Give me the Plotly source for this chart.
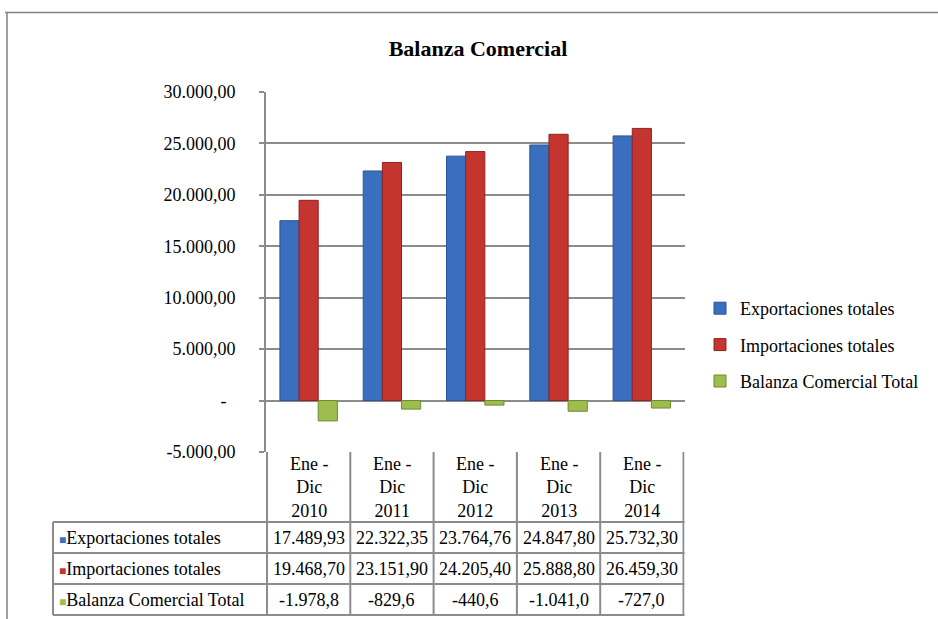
import plotly.graph_objects as go

# Trade balance data (millions), Jan-Dec periods
periods = ["Ene -<br>Dic<br>2010", "Ene -<br>Dic<br>2011", "Ene -<br>Dic<br>2012",
           "Ene -<br>Dic<br>2013", "Ene -<br>Dic<br>2014"]
exportaciones = [17489.93, 22322.35, 23764.76, 24847.80, 25732.30]
importaciones = [19468.70, 23151.90, 24205.40, 25888.80, 26459.30]
balanza = [-1978.8, -829.6, -440.6, -1041.0, -727.0]

series_names = ["Exportaciones totales", "Importaciones totales", "Balanza Comercial Total"]
series_values = [exportaciones, importaciones, balanza]
series_decimals = [2, 2, 1]
series_colors = ["#3A6FBF", "#C4352F", "#9DBE4E"]
series_edges = ["#2B5596", "#8E2421", "#6F8A32"]

y_tickvals = [30000, 25000, 20000, 15000, 10000, 5000, 0, -5000]
y_ticktext = ["30.000,00", "25.000,00", "20.000,00", "15.000,00", "10.000,00",
              "5.000,00", "-\u00a0\u00a0", "-5.000,00"]

W, H = 938, 619
FONT = "Liberation Serif, Times New Roman, serif"
GRID = "#8C8C8C"
FS = 18

# Page geometry (pixels)
PLOT_L, PLOT_R = 266, 684.5
PLOT_T, PLOT_B = 92, 452
TABLE_L = 53
HEADER_B = 522
ROW_H = 31


def es_num(v, dec):
    s = f"{v:,.{dec}f}"
    return s.replace(",", "X").replace(".", ",").replace("X", ".")


def px_x(p):
    return p / W


def px_y(p):
    return 1 - p / H


fig = go.Figure()

for name, vals, col, edge in zip(series_names, series_values, series_colors, series_edges):
    fig.add_trace(go.Bar(
        x=periods, y=vals, name=name, legendgroup=name,
        marker=dict(color=col, line=dict(color=edge, width=1)),
    ))

# ---- data table below the plot: grid lines ----
n_cat = len(periods)
n_rows = len(series_names)
table_b = HEADER_B + n_rows * ROW_H
line_style = dict(color=GRID, width=2)
shapes = []
# horizontal rules under the header and each row
for r in range(n_rows + 1):
    yy = px_y(HEADER_B + r * ROW_H)
    shapes.append(dict(type="line", xref="paper", yref="paper",
                       x0=px_x(TABLE_L), x1=px_x(PLOT_R), y0=yy, y1=yy, line=line_style))
# left edge of the row-label column
shapes.append(dict(type="line", xref="paper", yref="paper",
                   x0=px_x(TABLE_L), x1=px_x(TABLE_L),
                   y0=px_y(HEADER_B), y1=px_y(table_b), line=line_style))
# category boundaries, placed on the category axis
for k in range(n_cat + 1):
    xb = k - 0.5
    shapes.append(dict(type="line", xref="x", yref="paper", x0=xb, x1=xb,
                       y0=px_y(PLOT_B), y1=px_y(table_b), line=line_style))
# outer frame (top and left)
shapes.append(dict(type="line", xref="paper", yref="paper", x0=px_x(5), x1=1,
                   y0=px_y(12.5), y1=px_y(12.5), line=dict(color="#7F7F7F", width=1.5)))
shapes.append(dict(type="line", xref="paper", yref="paper", x0=px_x(7), x1=px_x(7),
                   y0=px_y(12.5), y1=0, line=dict(color="#7F7F7F", width=1.5)))

# ---- data table: texts ----
annotations = []
tfont = dict(family=FONT, size=FS, color="black")
for p in periods:
    annotations.append(dict(x=p, xref="x", y=px_y((PLOT_B + HEADER_B) / 2), yref="paper",
                            text=p, showarrow=False, xanchor="center", yanchor="middle",
                            font=tfont))
for r, (name, vals, dec, col) in enumerate(zip(series_names, series_values,
                                                series_decimals, series_colors)):
    yc = px_y(HEADER_B + (r + 0.5) * ROW_H)
    annotations.append(dict(
        x=px_x(TABLE_L + 4), xref="paper", y=yc, yref="paper",
        text=f'<span style="color:{col};font-size:12px">■</span>{name}',
        showarrow=False, xanchor="left", yanchor="middle", font=tfont))
    for p, v in zip(periods, vals):
        annotations.append(dict(x=p, xref="x", y=yc, yref="paper", text=es_num(v, dec),
                                showarrow=False, xanchor="center", yanchor="middle",
                                font=tfont))

fig.update_layout(
    width=W, height=H,
    margin=dict(l=0, r=0, t=0, b=0, pad=0, autoexpand=False),
    paper_bgcolor="white", plot_bgcolor="white",
    font=dict(family=FONT, size=FS, color="black"),
    title=dict(text="<b>Balanza Comercial</b>", x=px_x(478), xanchor="center",
               y=px_y(48), yanchor="middle", font=dict(family=FONT, size=22, color="black")),
    barmode="group", bargap=0.31, bargroupgap=0,
    xaxis=dict(domain=[px_x(PLOT_L), px_x(PLOT_R)], showticklabels=False, showgrid=False,
               ticks="", showline=False, zeroline=False, automargin=False),
    yaxis=dict(domain=[px_y(PLOT_B), px_y(PLOT_T)], range=[-5000, 30000],
               tickvals=y_tickvals, ticktext=y_ticktext, automargin=False,
               showgrid=True, gridcolor=GRID, gridwidth=2,
               zeroline=True, zerolinecolor=GRID, zerolinewidth=2,
               showline=True, linecolor=GRID, linewidth=2,
               ticks="outside", ticklen=5, tickcolor=GRID, tickwidth=2,
               ticklabelstandoff=20,
               tickfont=dict(family=FONT, size=FS, color="black")),
    legend=dict(x=px_x(700), xanchor="left", y=px_y(345), yanchor="middle",
                tracegroupgap=10, itemwidth=30,
                font=dict(family=FONT, size=FS, color="black"),
                bgcolor="rgba(0,0,0,0)"),
    shapes=shapes,
    annotations=annotations,
)

fig.write_html("out.html")
